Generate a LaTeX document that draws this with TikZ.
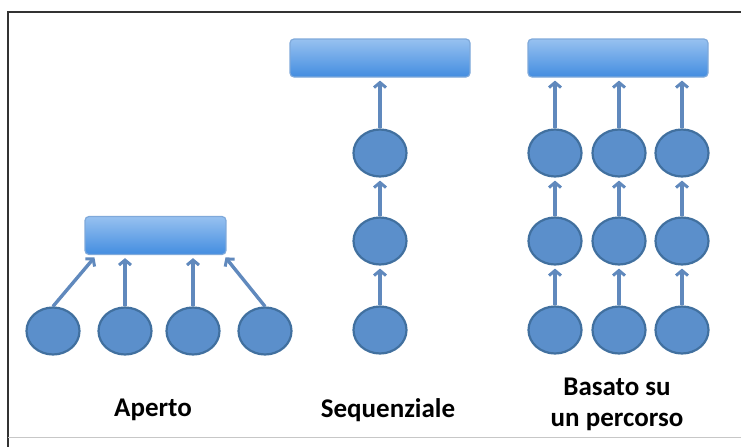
\documentclass[tikz,border=0pt]{standalone}
\usepackage{fontspec}
\setmainfont{Carlito}
\usetikzlibrary{shapes.geometric,arrows.meta,positioning}

\definecolor{nodefill}{HTML}{5B8FCB}
\definecolor{nodeline}{HTML}{41709F}
\definecolor{bartop}{HTML}{97C1F0}
\definecolor{barbottom}{HTML}{438DE0}
\definecolor{barline}{HTML}{7FA9DA}
\definecolor{arrowcol}{HTML}{6089BD}

\tikzset{
	leaf/.style = {draw = nodeline,
				   shape = ellipse,
				   fill = nodefill,
				   line width = 2.2pt,
				   minimum width = 53pt,
				   minimum height = 47pt,
				   inner sep = 0pt},
	bar/.style = {draw = barline,
				  rounded corners = 4pt,
				  top color = bartop,
				  bottom color = barbottom,
				  line width = 1.2pt,
				  minimum height = 38pt,
				  inner sep = 0pt},
	link/.style = {draw = arrowcol,
				   line width = 3.4pt,
				   -{Straight Barb[length=5pt,width=12pt,line width=3pt]},
				   shorten > = 3pt},
	caption/.style = {font = \fontsize{27}{31}\selectfont\bfseries,
					  align = center}
}

\begin{document}
\begin{tikzpicture}[x = 1pt, y = -1pt]
	\useasboundingbox (0,0) rectangle (741,447);
	% frame
	\draw[line width = 1.6pt, black!80] (741,12) -- (8,12) -- (8,447);
	\draw[line width = 1pt, black!22] (8,437) -- (741,437);

	% Aperto
	\draw (155.5,235.5) node[bar, minimum width = 141pt](openbar) {};
	\draw (53,331) node[leaf](open1) {};
	\draw (125,331) node[leaf](open2) {};
	\draw (193,331) node[leaf](open3) {};
	\draw (265,331) node[leaf](open4) {};

	\draw[link] (open1.north) -- ([xshift = 12pt]openbar.south west);
	\draw[link] (open2.north) -- (open2.north |- openbar.south);
	\draw[link] (open3.north) -- (open3.north |- openbar.south);
	\draw[link] (open4.north) -- ([xshift = -3pt]openbar.south east);

	\node[caption] (opencap) at (153,410) {Aperto};

	% Sequenziale
	\draw (380,58) node[bar, minimum width = 180pt](seqbar) {};
	\draw (380,153) node[leaf](seq1) {};
	\draw (380,241) node[leaf](seq2) {};
	\draw (380,330) node[leaf](seq3) {};

	\draw[link] (seq3) -- (seq2);
	\draw[link] (seq2) -- (seq1);
	\draw[link] (seq1) -- (seqbar);

	\node[caption] (seqcap) at (388,410) {Sequenziale};

	% Basato su un percorso
	\draw (618,58) node[bar, minimum width = 180pt](pathbar) {};
	\foreach \col/\x in {a/555, b/619, c/682} {
		\draw (\x,153) node[leaf](path\col1) {};
		\draw (\x,241) node[leaf](path\col2) {};
		\draw (\x,330) node[leaf](path\col3) {};

		\draw[link] (path\col3) -- (path\col2);
		\draw[link] (path\col2) -- (path\col1);
		\draw[link] (path\col1) -- (path\col1 |- pathbar.south);
	}

	\node[caption] (pathcap) at (617,404) {Basato su\\un percorso};
\end{tikzpicture}
\end{document}
